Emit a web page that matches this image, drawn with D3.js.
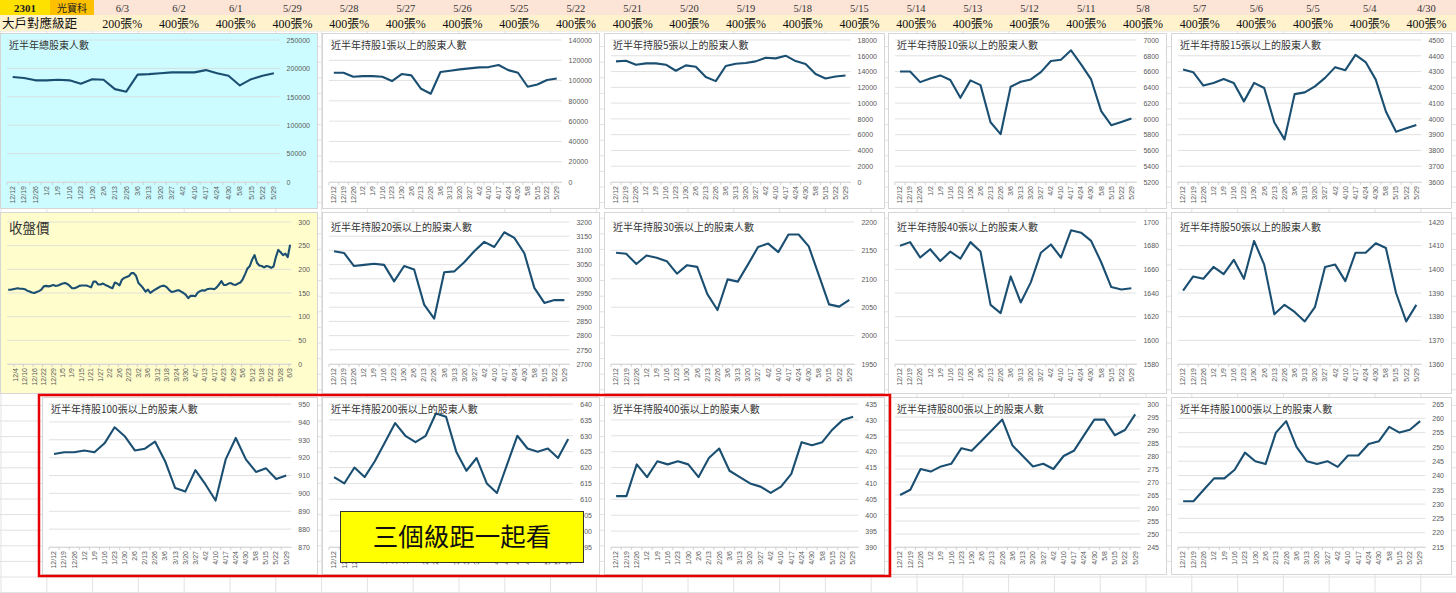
<!DOCTYPE html>
<html>
<head>
<meta charset="utf-8">
<script src="https://cdn.jsdelivr.net/npm/d3@7"></script>
<style>
  body { margin: 0; background: #fff; }
  svg { display: block; }
</style>
</head>
<body>
<svg id="sheet" width="1456" height="593"></svg>
<script>
// ---- data ----
const headerDates = ["6/3","6/2","6/1","5/29","5/28","5/27","5/26","5/25","5/22","5/21","5/20","5/19",
  "5/18","5/15","5/14","5/13","5/12","5/11","5/8","5/7","5/6","5/5","5/4","4/30"];
const headerLevels = ["200張%","400張%","400張%","400張%","400張%","400張%","400張%","400張%","400張%","400張%","400張%","400張%",
  "400張%","400張%","400張%","400張%","400張%","400張%","400張%","400張%","400張%","400張%","400張%","400張%"];

const weeks = ["12/12","12/19","12/26","1/2","1/9","1/16","1/23","1/30","2/6","2/13","2/26","3/6",
  "3/13","3/20","3/27","4/2","4/10","4/17","4/24","4/30","5/8","5/15","5/22","5/29"];

const holdersAll = [185000,183000,179000,179000,180000,179000,173000,181000,180000,163500,159000,189000,
  190000,191500,193000,193000,193000,197000,191500,187000,170000,181000,187000,191500];
const over1 = [107700,107700,103800,104400,104400,103800,99500,106400,105100,91900,87000,108400,
  109700,111000,112000,113000,113300,115300,110300,107700,93900,96200,100500,102100];
const over5 = [15290,15370,14870,15040,15040,14870,14100,14780,14610,13300,12790,14700,
  14990,15080,15290,15750,15670,16010,15330,14950,13680,13130,13380,13510];
const over10 = [6600,6600,6466,6513,6551,6492,6267,6488,6428,5958,5806,6407,
  6470,6500,6593,6733,6750,6869,6691,6500,6098,5920,5962,6005];
const over15 = [4313,4296,4211,4228,4253,4228,4111,4228,4196,3977,3870,4157,
  4168,4206,4260,4328,4309,4406,4360,4249,4047,3919,3940,3962];
const over20 = [3097,3091,3045,3049,3053,3049,2991,3045,3033,2909,2860,3023,
  3026,3058,3097,3130,3112,3164,3144,3090,2968,2915,2925,2925];
const over30 = [2146,2144,2126,2141,2137,2131,2109,2124,2121,2073,2045,2099,
  2095,2125,2156,2162,2147,2178,2178,2157,2106,2055,2051,2063];
const over40 = [1680,1683,1670,1677,1667,1675,1669,1683,1675,1630,1623,1654,
  1632,1649,1674,1681,1670,1693,1691,1684,1666,1645,1643,1644];
const over50 = [1391,1397,1396,1401,1398,1404,1396,1412,1402,1381,1385,1382,
  1378,1384,1401,1402,1395,1407,1407,1411,1409,1390,1378,1385];
const over100 = [922,923,923,924,923,928,937,932,924,925,929,918,
  903,901,913,905,896,919,931,919,912,914,908,910];
const over200 = [617,615,620,617,622,628,634,630,628,630,637,636,
  625,619,623,615,612,621,630,626,625,626,623,629];
const over400 = [406,406,416,412,417,416,417,416,412,418,421,414,
  412,410,409,407,409,413,423,422,423,427,430,431];
const over800 = [265,267,275,274,276,277,283,282,286,290,294,284,
  280,276,277,275,280,282,288,294,294,288,290,296];
const over1000 = [231,231,235,239,239,242,248,245,244,255,259,250,
  245,244,245,243,247,247,251,252,257,255,256,259];

// daily close, every 4th trading day labelled (counted back from 6/3)
const priceTicks = ["12/4","12/10","12/16","12/22","12/29","1/5","1/9","1/15","1/21","1/27","2/2","2/6",
  "2/23","3/2","3/6","3/12","3/18","3/24","3/30","4/7","4/13","4/17","4/23","4/29","5/6","5/12",
  "5/18","5/22","5/28","6/3"];
const priceClose = [157,157,158,159,160,159,159,158,155,153,151,150,152,154,157,164,165,164,165,167,
  165,166,168,170,171,169,165,160,160,162,165,166,166,166,164,162,174,174,168,168,
  170,167,165,162,160,172,170,166,178,182,184,186,192,192,186,171,166,160,153,157,
  150,154,157,160,163,165,165,162,156,152,153,155,156,153,150,146,139,144,144,143,
  151,154,156,155,158,159,159,158,162,168,175,167,167,170,171,168,167,170,172,179,
  190,202,207,221,230,214,208,207,204,207,206,203,206,226,241,236,230,233,226,252];

// ---- drawing ----
const svg = d3.select("#sheet");
const FONT_NUM = "'Liberation Sans', Arial, sans-serif";
const FONT_CJK = "'Noto Sans CJK TC', 'Noto Sans', sans-serif";
const FONT_HEAD = "'Liberation Serif', 'Noto Sans CJK TC', serif";
const LINE_COLOR = "#1b4f72";

// spreadsheet cell grid behind everything
const cellGrid = svg.append("g").attr("stroke", "#e2e2e2").attr("stroke-width", 1);
d3.range(31, 593, 15.6).forEach(yy => {
  cellGrid.append("line").attr("x1", 0).attr("x2", 1456).attr("y1", yy).attr("y2", yy);
});
d3.range(1, 1456, 45.8).forEach(xx => {
  cellGrid.append("line").attr("x1", xx).attr("x2", xx).attr("y1", 31).attr("y2", 593);
});

// header rows
svg.append("rect").attr("x", 0).attr("y", 0).attr("width", 1456).attr("height", 15).attr("fill", "#fce4d6");
svg.append("rect").attr("x", 0).attr("y", 15).attr("width", 1456).attr("height", 16).attr("fill", "#fff2cc");
svg.append("rect").attr("x", 0).attr("y", 0).attr("width", 50).attr("height", 15).attr("fill", "#ffe100");
svg.append("rect").attr("x", 50).attr("y", 0).attr("width", 44).attr("height", 15).attr("fill", "#ffc000");

svg.append("text").attr("x", 25).attr("y", 11.5).attr("text-anchor", "middle")
  .attr("font-family", FONT_HEAD).attr("font-size", 11).attr("font-weight", "bold").attr("fill", "#222")
  .text("2301");
svg.append("text").attr("x", 72).attr("y", 11.5).attr("text-anchor", "middle")
  .attr("font-family", FONT_CJK).attr("font-size", 10).attr("fill", "#222")
  .text("光寶科");
svg.append("text").attr("x", 2).attr("y", 28).attr("font-family", FONT_CJK)
  .attr("font-size", 12.5).attr("fill", "#111").text("大戶對應級距");

const hx = d3.scaleBand().domain(d3.range(headerDates.length)).range([94, 94 + 56.7 * headerDates.length]);
svg.append("g").selectAll("text").data(headerDates).join("text")
  .attr("x", (d, i) => hx(i) + hx.bandwidth() / 2).attr("y", 11.5)
  .attr("text-anchor", "middle").attr("font-family", FONT_HEAD).attr("font-size", 10.5)
  .attr("fill", "#333").text(d => d);
svg.append("g").selectAll("text").data(headerLevels).join("text")
  .attr("x", (d, i) => hx(i) + hx.bandwidth() / 2).attr("y", 27.5)
  .attr("text-anchor", "middle").attr("font-family", FONT_HEAD).attr("font-size", 12)
  .attr("fill", "#111").text(d => d);

// panel layout
const cols = [[0, 318], [322, 600], [604, 885], [888, 1167], [1171, 1452]];
const rows = [
  { y0: 33, y1: 209, top: 40, bottom: 182 },
  { y0: 212, y1: 394, top: 222, bottom: 364 },
  { y0: 397, y1: 575, top: 404, bottom: 547 }
];

function drawChart(cfg) {
  const [x0, x1] = cfg.cols;
  const r = cfg.row;
  const g = svg.append("g");

  g.append("rect").attr("x", x0 + 0.5).attr("y", r.y0 + 0.5)
    .attr("width", x1 - x0 - 1).attr("height", r.y1 - r.y0 - 1)
    .attr("fill", cfg.bg || "#fff").attr("stroke", "#d6d6d6");

  const ticks = d3.range(cfg.domain[0], cfg.domain[1] + cfg.step / 2, cfg.step);
  const labelW = d3.max(ticks, t => String(t).length) * 3.9;
  const plotL = x0 + 7;
  const plotR = x1 - 8 - labelW - 7;

  const idx = d3.range(cfg.values.length);
  const band = d3.scaleBand().domain(idx).range([plotL, plotR]);
  const y = d3.scaleLinear().domain(cfg.domain).range([r.bottom, r.top]);

  // horizontal gridlines
  g.append("g").selectAll("line").data(ticks).join("line")
    .attr("x1", plotL).attr("x2", plotR)
    .attr("y1", d => y(d)).attr("y2", d => y(d))
    .attr("stroke", "#d9d9d9").attr("stroke-width", 0.8);

  // value axis on the right (categories run in reverse in the sheet)
  const ya = g.append("g").attr("transform", `translate(${plotR + 7},0)`)
    .call(d3.axisRight(y).tickValues(ticks).tickSize(0).tickPadding(0).tickFormat(d3.format("d")));
  ya.select(".domain").remove();
  ya.attr("font-family", FONT_NUM).attr("font-size", 7);
  ya.selectAll("text").attr("fill", "#595959");

  // category axis
  const every = cfg.labelEvery || 1;
  const offset = cfg.labelOffset || 0;
  const labelIdx = idx.filter(i => (i - offset) % every === 0 && i >= offset);
  const xa = g.append("g").attr("transform", `translate(0,${r.bottom})`)
    .call(d3.axisBottom(band).tickValues(labelIdx).tickSize(0).tickSizeOuter(0)
      .tickFormat(i => cfg.labels[(i - offset) / every]));
  xa.attr("font-family", FONT_NUM).attr("font-size", 7);
  xa.select(".domain").attr("stroke", "#d9d9d9");
  xa.selectAll("text")
    .attr("transform", "rotate(-90)")
    .attr("text-anchor", "end")
    .attr("x", -4).attr("y", 0).attr("dy", "0.33em")
    .attr("fill", "#595959");

  // small tick marks between categories
  const markIdx = idx.filter(i => (i - offset) % every === 0 || every === 1);
  g.append("g").selectAll("line").data(markIdx).join("line")
    .attr("x1", i => band(i)).attr("x2", i => band(i))
    .attr("y1", r.bottom).attr("y2", r.bottom + 3)
    .attr("stroke", "#c8c8c8").attr("stroke-width", 0.8);

  // series line
  g.append("path").datum(cfg.values)
    .attr("fill", "none").attr("stroke", LINE_COLOR).attr("stroke-width", 2.1)
    .attr("stroke-linejoin", "round")
    .attr("d", d3.line().x((d, i) => band(i) + band.bandwidth() / 2).y(d => y(d)));

  // chart title
  g.append("text").attr("x", x0 + 9).attr("y", r.top + (cfg.big ? 11 : 8.5))
    .attr("font-family", FONT_CJK).attr("font-size", cfg.big ? 13.5 : 10)
    .attr("fill", "#333").text(cfg.title);
}

const charts = [
  { title: "近半年總股東人數", values: holdersAll, domain: [0, 250000], step: 50000, cols: cols[0], row: rows[0], bg: "#ccfcff" },
  { title: "近半年持股1張以上的股東人數", values: over1, domain: [0, 140000], step: 20000, cols: cols[1], row: rows[0] },
  { title: "近半年持股5張以上的股東人數", values: over5, domain: [0, 18000], step: 2000, cols: cols[2], row: rows[0] },
  { title: "近半年持股10張以上的股東人數", values: over10, domain: [5200, 7000], step: 200, cols: cols[3], row: rows[0] },
  { title: "近半年持股15張以上的股東人數", values: over15, domain: [3600, 4500], step: 100, cols: cols[4], row: rows[0] },

  { title: "收盤價", values: priceClose, domain: [0, 300], step: 50, cols: cols[0], row: rows[1], bg: "#fffdcc",
    big: true, labels: priceTicks, labelEvery: 4, labelOffset: 3 },
  { title: "近半年持股20張以上的股東人數", values: over20, domain: [2700, 3200], step: 50, cols: cols[1], row: rows[1] },
  { title: "近半年持股30張以上的股東人數", values: over30, domain: [1950, 2200], step: 50, cols: cols[2], row: rows[1] },
  { title: "近半年持股40張以上的股東人數", values: over40, domain: [1580, 1700], step: 20, cols: cols[3], row: rows[1] },
  { title: "近半年持股50張以上的股東人數", values: over50, domain: [1360, 1420], step: 10, cols: cols[4], row: rows[1] },

  { title: "近半年持股100張以上的股東人數", values: over100, domain: [870, 950], step: 10, cols: [42, 318], row: rows[2] },
  { title: "近半年持股200張以上的股東人數", values: over200, domain: [595, 640], step: 5, cols: cols[1], row: rows[2] },
  { title: "近半年持股400張以上的股東人數", values: over400, domain: [390, 435], step: 5, cols: cols[2], row: rows[2] },
  { title: "近半年持股800張以上的股東人數", values: over800, domain: [245, 300], step: 5, cols: cols[3], row: rows[2] },
  { title: "近半年持股1000張以上的股東人數", values: over1000, domain: [215, 265], step: 5, cols: cols[4], row: rows[2] }
];

charts.forEach(c => drawChart(Object.assign({ labels: weeks }, c)));

// highlight of the three levels
svg.append("rect").attr("x", 39).attr("y", 395).attr("width", 851).attr("height", 181)
  .attr("fill", "none").attr("stroke", "#e60000").attr("stroke-width", 2.5);

svg.append("rect").attr("x", 340.5).attr("y", 511.5).attr("width", 243).attr("height", 51)
  .attr("fill", "#ffff00").attr("stroke", "#333").attr("stroke-width", 1);
svg.append("text").attr("x", 462).attr("y", 546).attr("text-anchor", "middle")
  .attr("font-family", FONT_CJK).attr("font-size", 25.5).attr("fill", "#111")
  .text("三個級距一起看");
</script>
</body>
</html>
